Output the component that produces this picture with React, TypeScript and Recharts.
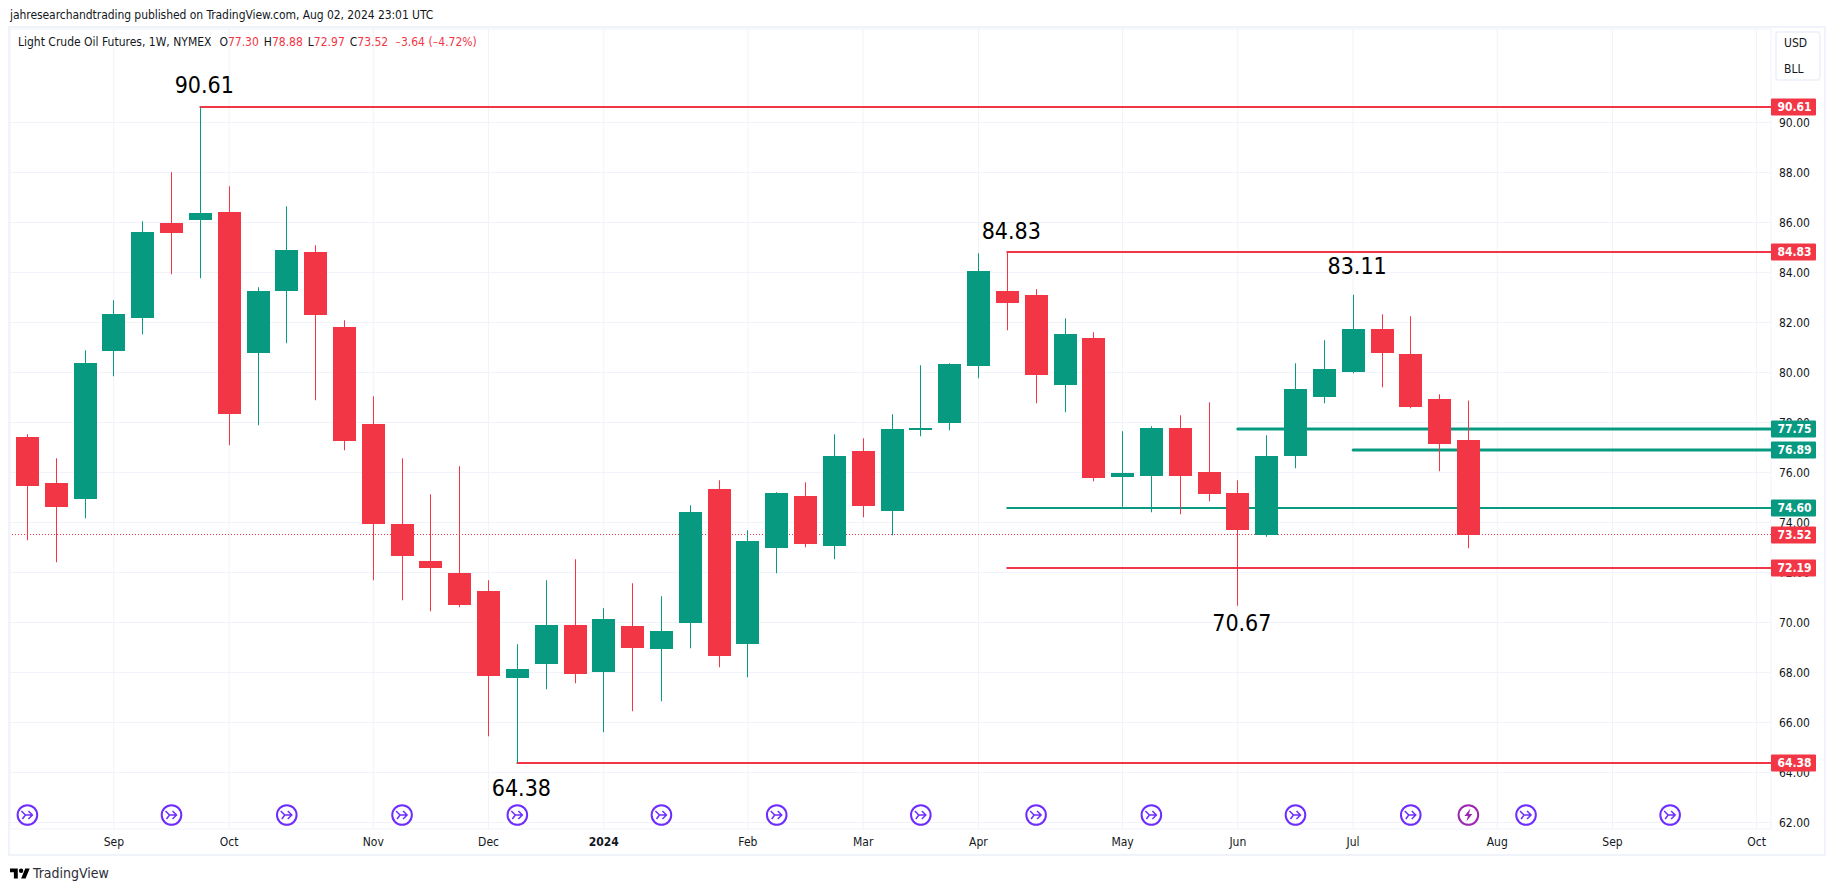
import {
  ComposedChart,
  Bar,
  Line,
  XAxis,
  YAxis,
  CartesianGrid,
  ReferenceLine,
  ReferenceDot,
} from "recharts"

const RED = "#f23645"
const GREEN = "#089981"
const GRID = "#f0f3fa"
const TEXT = "#131722"
const FONT = '"DejaVu Sans Condensed", "DejaVu Sans", sans-serif'

const WIDTH = 1835
const HEIGHT = 891
const PLOT_RIGHT = 1771

const weeks = [
  "2023-08-14", "2023-08-21", "2023-08-28", "2023-09-04", "2023-09-11", "2023-09-18", "2023-09-25",
  "2023-10-02", "2023-10-09", "2023-10-16", "2023-10-23", "2023-10-30", "2023-11-06", "2023-11-13",
  "2023-11-20", "2023-11-27", "2023-12-04", "2023-12-11", "2023-12-18", "2023-12-25", "2024-01-01",
  "2024-01-08", "2024-01-15", "2024-01-22", "2024-01-29", "2024-02-05", "2024-02-12", "2024-02-19",
  "2024-02-26", "2024-03-04", "2024-03-11", "2024-03-18", "2024-03-25", "2024-04-01", "2024-04-08",
  "2024-04-15", "2024-04-22", "2024-04-29", "2024-05-06", "2024-05-13", "2024-05-20", "2024-05-27",
  "2024-06-03", "2024-06-10", "2024-06-17", "2024-06-24", "2024-07-01", "2024-07-08", "2024-07-15",
  "2024-07-22", "2024-07-29", "2024-08-05", "2024-08-12", "2024-08-19", "2024-08-26", "2024-09-02",
  "2024-09-09", "2024-09-16", "2024-09-23", "2024-09-30", "2024-10-07",
]

const opens = [
  77.41, 75.57, 74.93, 80.85, 82.17, 85.97, 86.09, 86.41, 80.77, 83.25, 84.81, 81.81, 77.93, 73.93, 72.45,
  71.97, 71.25, 67.77, 68.33, 69.89, 68.01, 69.85, 68.93, 69.97, 75.33, 69.13, 72.97, 75.05, 73.05, 76.85,
  74.45, 77.69, 77.97, 80.25, 83.25, 83.09, 79.49, 81.37, 75.81, 75.85, 77.77, 76.01, 75.17, 73.51, 76.65,
  79.01, 80.01, 81.73, 80.73, 78.93, 77.3,
]
const highs = [
  77.53, 76.57, 80.89, 82.89, 86.05, 88.01, 90.61, 87.45, 83.41, 86.65, 85.09, 82.09, 79.05, 76.57, 75.13,
  76.25, 71.69, 69.13, 71.69, 72.53, 70.57, 71.57, 71.05, 74.69, 75.69, 73.69, 75.21, 75.61, 77.53, 77.37,
  78.33, 80.29, 80.37, 84.77, 84.83, 83.33, 82.17, 81.61, 77.65, 77.85, 78.29, 78.81, 75.69, 77.49, 80.37,
  81.29, 83.11, 82.33, 82.25, 79.13, 78.88,
]
const lows = [
  73.29, 72.41, 74.17, 79.85, 81.53, 83.93, 83.77, 77.09, 77.89, 81.17, 78.89, 76.89, 71.69, 70.89, 70.45,
  70.61, 65.45, 64.38, 67.33, 67.57, 65.61, 66.45, 66.85, 68.97, 68.21, 67.81, 71.97, 73.01, 72.53, 74.21,
  73.49, 77.45, 77.69, 79.77, 81.69, 78.77, 78.41, 75.65, 74.63, 74.41, 74.33, 74.85, 70.67, 73.43, 76.17,
  78.77, 79.97, 79.41, 78.57, 76.05, 72.97,
]
const closes = [
  75.45, 74.61, 80.37, 82.33, 85.61, 85.57, 86.37, 78.33, 83.25, 84.89, 82.29, 77.25, 73.93, 72.65, 72.17,
  70.69, 67.85, 68.13, 69.89, 67.93, 70.13, 68.97, 69.65, 74.41, 68.65, 73.25, 75.17, 73.13, 76.65, 74.65,
  77.73, 77.77, 80.33, 84.05, 82.77, 79.89, 81.53, 75.77, 75.97, 77.77, 75.85, 75.13, 73.69, 76.65, 79.33,
  80.13, 81.73, 80.77, 78.61, 77.13, 73.52,
]

const priceTicks = [62, 64, 66, 68, 70, 72, 74, 76, 78, 80, 82, 84, 86, 88, 90]
const monthWeeks = [
  "2023-09-04", "2023-10-02", "2023-11-06", "2023-12-04", "2024-01-01", "2024-02-05", "2024-03-04",
  "2024-04-01", "2024-05-06", "2024-06-03", "2024-07-01", "2024-08-05", "2024-09-02", "2024-10-07",
]
const monthLabels = ["Sep", "Oct", "Nov", "Dec", "2024", "Feb", "Mar", "Apr", "May", "Jun", "Jul", "Aug", "Sep", "Oct"]

// horizontal levels drawn on the chart, with the week they start from
const redLevels = [
  { price: 90.61, from: "2023-09-25" },
  { price: 84.83, from: "2024-04-08" },
  { price: 72.19, from: "2024-04-08" },
  { price: 64.38, from: "2023-12-11" },
]
const greenLevels = [
  { price: 77.75, from: "2024-06-03" },
  { price: 76.89, from: "2024-07-01" },
  { price: 74.6, from: "2024-04-08" },
]
const heavyLevels = [77.75, 76.89]
const lastPrice = 73.52

const swingLabels = [
  { week: "2023-09-25", price: 90.61, dx: 4, dy: -22 },
  { week: "2024-04-08", price: 84.83, dx: 4, dy: -21 },
  { week: "2024-07-01", price: 83.11, dx: 4, dy: -29 },
  { week: "2024-06-03", price: 70.67, dx: 4, dy: 17 },
  { week: "2023-12-11", price: 64.38, dx: 4, dy: 25 },
]

const arrowWeeks = [
  "2023-08-14", "2023-09-18", "2023-10-16", "2023-11-13", "2023-12-11", "2024-01-15", "2024-02-12",
  "2024-03-18", "2024-04-15", "2024-05-13", "2024-06-17", "2024-07-15", "2024-08-12", "2024-09-16",
]
const boltWeeks = ["2024-07-29"]
const markerPrice = 62.3

const chartData = weeks.map((week, i) => ({
  week,
  open: opens[i],
  close: closes[i],
  high: highs[i],
  low: lows[i],
  range: i < highs.length ? [lows[i], highs[i]] : undefined,
  arrow: arrowWeeks.includes(week) ? markerPrice : undefined,
  bolt: boltWeeks.includes(week) ? markerPrice : undefined,
}))

function Candle(props: any) {
  const { x, y, width, height, payload } = props
  if (payload.high === undefined) return null
  const color = payload.close >= payload.open ? GREEN : RED
  const perUnit = height / (payload.high - payload.low)
  const top = y + (payload.high - Math.max(payload.open, payload.close)) * perUnit
  const bottom = y + (payload.high - Math.min(payload.open, payload.close)) * perUnit
  const left = Math.round(x)
  return (
    <g>
      <rect x={left + 11} y={y} width={1} height={height} fill={color} />
      <rect x={left} y={Math.round(top)} width={width} height={Math.max(Math.round(bottom) - Math.round(top), 1)} fill={color} />
    </g>
  )
}

function ArrowMarker(props: any) {
  const { cx, cy, payload } = props
  if (payload.arrow === undefined || cx === undefined) return <g key={payload.week} />
  return (
    <g key={payload.week} transform={`translate(${cx},${cy})`} fill="none" stroke="#6e2cff" strokeWidth={1.5}>
      <circle r={9.8} strokeWidth={2} fill="#ffffff" />
      <path d="M-6,-4 L-2,0 L5,0 M1,-4 L5,0 L1,4 M-2,0 L-5,4" />
    </g>
  )
}

function BoltMarker(props: any) {
  const { cx, cy, payload } = props
  if (payload.bolt === undefined || cx === undefined) return <g key={payload.week} />
  return (
    <g key={payload.week} transform={`translate(${cx},${cy})`}>
      <circle r={9.8} fill="#ffffff" stroke="#9c27b0" strokeWidth={2} />
      <path d="M2,-6.5 L-4,1 L-0.5,1 L-2,6.5 L4,-1 L0.5,-1 Z" fill="#9c27b0" />
    </g>
  )
}

function levelShape(color: string, price: number) {
  return (props: any) => (
    <line
      x1={props.x1}
      x2={PLOT_RIGHT}
      y1={Math.round(props.y1)}
      y2={Math.round(props.y1)}
      stroke={color}
      strokeWidth={heavyLevels.includes(price) ? 3 : 2}
      strokeLinecap="round"
    />
  )
}

function pillShape(color: string, price: number) {
  return (props: any) => {
    const cy = Math.round(props.cy)
    return (
      <g>
        <rect x={PLOT_RIGHT} y={cy - 8.5} width={45} height={17} rx={1} fill={color} />
        <text x={PLOT_RIGHT + 23.5} y={cy + 4} textAnchor="middle" fontSize={12} fontWeight={600} fontFamily={FONT} fill="#ffffff">
          {price.toFixed(2)}
        </text>
      </g>
    )
  }
}

function swingShape(text: string, dx: number, dy: number) {
  return (props: any) => (
    <text x={props.cx + dx} y={props.cy + dy + 8} textAnchor="middle" fontSize={23} fontFamily={FONT} fill="#000000">
      {text}
    </text>
  )
}

function MonthTick(props: any) {
  const { x, y, payload } = props
  const label = monthLabels[monthWeeks.indexOf(payload.value)]
  return (
    <text x={x} y={y + 9} textAnchor="middle" fontSize={12} fontFamily={FONT} fontWeight={label === "2024" ? 700 : 400} fill={TEXT}>
      {label}
    </text>
  )
}

function Minus() {
  return <span style={{ fontFamily: "Roboto", fontSize: 10 }}>−</span>
}

const lastWeek = weeks[weeks.length - 1]
const legendValues = [
  ["O", "77.30"],
  ["H", "78.88"],
  ["L", "72.97"],
  ["C", "73.52"],
]

export default function App() {
  return (
    <div style={{ position: "absolute", left: 0, top: 0, width: WIDTH, height: HEIGHT, background: "#ffffff", fontFamily: FONT, color: TEXT, overflow: "hidden" }}>
      <ComposedChart
        width={WIDTH}
        height={HEIGHT}
        data={chartData}
        margin={{ top: 29, right: 0, bottom: 32, left: 10 }}
        barCategoryGap={0}
      >
        <CartesianGrid stroke={GRID} strokeWidth={1} />
        <XAxis
          dataKey="week"
          ticks={monthWeeks}
          interval={0}
          tick={MonthTick}
          tickLine={false}
          axisLine={false}
          height={30}
          padding={{ left: 3, right: 0 }}
        />
        <YAxis
          orientation="right"
          width={64}
          domain={[61.74, 93.74]}
          ticks={priceTicks}
          tickFormatter={(v: number) => v.toFixed(2)}
          tick={{ fontSize: 12, fontFamily: FONT, fill: TEXT, textAnchor: "start" }}
          tickLine={false}
          axisLine={false}
          tickSize={0}
          tickMargin={8}
        />
        <ReferenceLine y={lastPrice} stroke={RED} strokeDasharray="1 2" zIndex={150} />
        {redLevels.map((l) => (
          <ReferenceLine key={l.price} segment={[{ x: l.from, y: l.price }, { x: lastWeek, y: l.price }]} shape={levelShape(RED, l.price)} zIndex={150} />
        ))}
        {greenLevels.map((l) => (
          <ReferenceLine key={l.price} segment={[{ x: l.from, y: l.price }, { x: lastWeek, y: l.price }]} shape={levelShape(GREEN, l.price)} zIndex={150} />
        ))}
        <Bar dataKey="range" barSize={23} shape={Candle} isAnimationActive={false} />
        <Line dataKey="arrow" stroke="none" dot={ArrowMarker} activeDot={false} isAnimationActive={false} />
        <Line dataKey="bolt" stroke="none" dot={BoltMarker} activeDot={false} isAnimationActive={false} />
        {greenLevels.map((l) => (
          <ReferenceDot key={l.price} x={lastWeek} y={l.price} shape={pillShape(GREEN, l.price)} zIndex={2000} />
        ))}
        {redLevels.map((l) => (
          <ReferenceDot key={l.price} x={lastWeek} y={l.price} shape={pillShape(RED, l.price)} zIndex={2000} />
        ))}
        <ReferenceDot x={lastWeek} y={lastPrice} shape={pillShape(RED, lastPrice)} zIndex={2000} />
        {swingLabels.map((s) => (
          <ReferenceDot key={s.price} x={s.week} y={s.price} shape={swingShape(s.price.toFixed(2), s.dx, s.dy)} zIndex={2000} />
        ))}
      </ComposedChart>

      {/* frame round the pane */}
      <div style={{ position: "absolute", left: 8, top: 26, width: 1818, height: 830, boxSizing: "border-box", border: `2px solid ${GRID}`, pointerEvents: "none" }} />

      <div style={{ position: "absolute", left: 10, top: 7, fontSize: 12, lineHeight: "16px", letterSpacing: -0.06, whiteSpace: "nowrap" }}>
        jahresearchandtrading published on TradingView.com, Aug 02, 2024 23:01 UTC
      </div>
      <div style={{ position: "absolute", left: 18, top: 34, fontSize: 12, lineHeight: "16px", whiteSpace: "nowrap" }}>
        Light Crude Oil Futures, 1W, NYMEX
        {legendValues.map(([k, v], i) => (
          <span key={k} style={{ marginLeft: i === 0 ? 8 : 5 }}>
            {k}
            <span style={{ color: RED }}>{v}</span>
          </span>
        ))}
        <span style={{ marginLeft: 7, color: RED }}>
          <Minus />3.64 (<Minus />4.72%)
        </span>
      </div>

      <div style={{ position: "absolute", left: 1775, top: 31, width: 46, height: 50, boxSizing: "border-box", border: `2px solid ${GRID}`, borderRadius: 4, background: "#ffffff", fontSize: 12, lineHeight: "26px", paddingLeft: 7 }}>
        <div style={{ marginTop: -3 }}>USD</div>
        <div>BLL</div>
      </div>

      <svg style={{ position: "absolute", left: 10, top: 866 }} width={20} height={16} viewBox="0 0 36 28">
        <path d="M14 22H7V11H0V4h14v18ZM28 22h-8l7.5-18h8L28 22Z" fill="#000000" />
        <circle cx={20} cy={8} r={4} fill="#000000" />
      </svg>
      <div style={{ position: "absolute", left: 33, top: 864, fontSize: 14, lineHeight: "18px", color: "#2a2e39" }}>TradingView</div>
    </div>
  )
}
